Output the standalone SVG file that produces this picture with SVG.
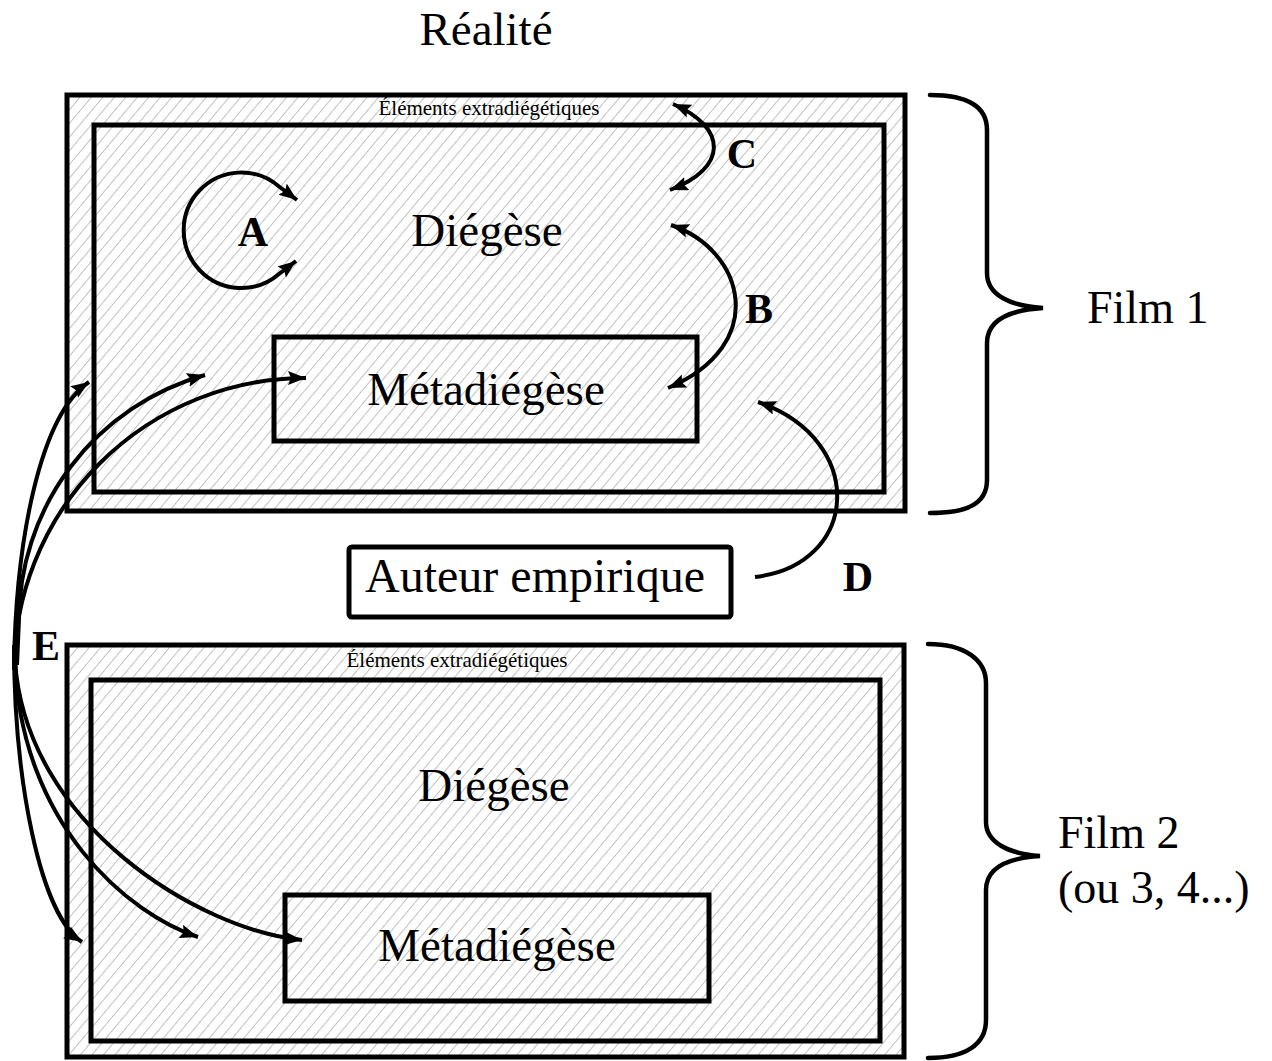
<svg xmlns="http://www.w3.org/2000/svg" width="1272" height="1061" viewBox="0 0 1272 1061">
  <defs>
    <pattern id="hatch" patternUnits="userSpaceOnUse" width="8.8" height="20" patternTransform="rotate(40)">
      <line x1="0" y1="-2" x2="0" y2="22" stroke="#a6a6a6" stroke-width="1.4"/>
    </pattern>
    <marker id="ah" markerUnits="userSpaceOnUse" markerWidth="20" markerHeight="16" refX="18" refY="7" orient="auto-start-reverse">
      <path d="M0,0 L18,7 L0,14 L3,7 z" fill="#000"/>
    </marker>
    <style>
      .frame { fill: url(#hatch); stroke: #000; stroke-width: 5; }
      .box { fill: none; stroke: #000; stroke-width: 5; }
      .wbox { fill: #fff; stroke: #000; stroke-width: 5; }
      .arr { fill: none; stroke: #000; stroke-width: 4; }
      .brace { fill: none; stroke: #000; stroke-width: 4.5; stroke-linecap: round; }
      .t { font-family: "Liberation Serif", "Times New Roman", serif; fill: #000; }
      .big { font-size: 47px; text-anchor: middle; }
      .small { font-size: 21px; text-anchor: middle; }
      .lab { font-size: 46px; }
      .let { font-size: 42px; font-weight: bold; text-anchor: middle; }
    </style>
  </defs>

  <rect width="1272" height="1061" fill="#fff"/>

  <text class="t big" x="486" y="45">Réalité</text>

  <!-- Film 1 -->
  <g id="film1">
    <rect class="frame" x="67" y="95" width="838" height="416"/>
    <rect class="box" x="94" y="125" width="790" height="367"/>
    <text class="t small" x="489" y="115">Éléments extradiégétiques</text>
    <text class="t big" x="487" y="246">Diégèse</text>
  </g>
  <g id="meta1">
    <rect class="box" x="274" y="337" width="423" height="104"/>
    <text class="t big" x="486" y="405">Métadiégèse</text>
  </g>

  <!-- Auteur empirique -->
  <g id="auteur">
    <rect class="wbox" x="349" y="547" width="382" height="70" rx="3"/>
    <text class="t" x="535" y="592" font-size="48" text-anchor="middle">Auteur empirique</text>
  </g>

  <!-- Film 2 -->
  <g id="film2">
    <rect class="frame" x="67" y="645" width="837" height="412"/>
    <rect class="box" x="91" y="680" width="789" height="361"/>
    <text class="t small" x="457" y="667">Éléments extradiégétiques</text>
    <text class="t big" x="494" y="801">Diégèse</text>
  </g>
  <g id="meta2">
    <rect class="box" x="285" y="895" width="424" height="106"/>
    <text class="t big" x="497" y="961">Métadiégèse</text>
  </g>

  <!-- Braces and film labels -->
  <g id="brace1">
    <path class="brace" d="M930,95 C965,95 987,105 987,130 L987,273 C987,295 1010,306 1043,308 C1010,310 987,320 987,343 L987,480 C987,505 965,513 930,513"/>
    <text class="t lab" x="1087" y="323">Film 1</text>
  </g>
  <g id="brace2">
    <path class="brace" d="M928,644 C965,644 986,660 986,683 L986,822 C986,842 1008,854 1040,856 C1008,858 986,868 986,890 L986,1020 C986,1045 965,1058 928,1058"/>
    <text class="t lab" x="1058" y="848">Film 2</text>
    <text class="t lab" x="1058" y="903">(ou 3, 4...)</text>
  </g>

  <!-- Connectors -->
  <g id="connectors">
    <!-- A: loop inside the diegesis -->
    <path class="arr" marker-start="url(#ah)" marker-end="url(#ah)" d="M296,261 L279,274 A57.7,57.7 0 1 1 279,186.5 L297,200"/>
    <!-- B: diegesis <-> metadiegesis -->
    <path class="arr" marker-start="url(#ah)" marker-end="url(#ah)" d="M671,225 C745,250 770,345 668,388"/>
    <!-- C: diegesis <-> extradiegetic elements -->
    <path class="arr" marker-start="url(#ah)" marker-end="url(#ah)" d="M673,104 C728,128 728,168 670,190"/>
    <!-- D: author -> film -->
    <path class="arr" marker-end="url(#ah)" d="M755,577 C860,565 868,440 758,402"/>
    <!-- E: links between films -->
    <path class="arr" marker-end="url(#ah)" d="M14,665 C16,540 40,415 89,382"/>
    <path class="arr" marker-end="url(#ah)" d="M17,665 L18.9,621 A255.5,255.5 0 0 1 205,375"/>
    <path class="arr" marker-end="url(#ah)" d="M14,670 A292,292 0 0 1 306,378"/>
    <path class="arr" marker-end="url(#ah)" d="M14,645 C14,780 40,915 82,942"/>
    <path class="arr" marker-end="url(#ah)" d="M15,660 C20,825 130,915 198,937"/>
    <path class="arr" marker-end="url(#ah)" d="M15,660 C25,825 200,930 302,940"/>
  </g>

  <!-- Letters -->
  <text class="t let" x="253" y="246">A</text>
  <text class="t let" x="759" y="323">B</text>
  <text class="t let" x="742" y="168">C</text>
  <text class="t let" x="858" y="591">D</text>
  <text class="t let" x="46" y="660">E</text>
</svg>
